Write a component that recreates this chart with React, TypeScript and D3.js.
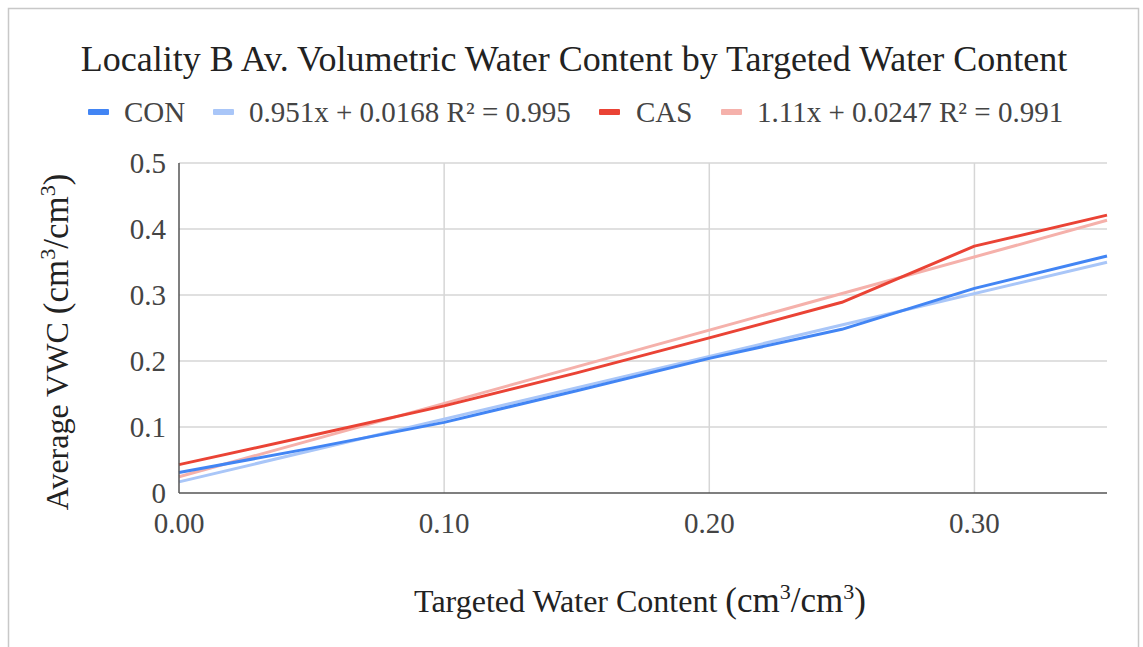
import React from "react";
import * as d3 from "d3";

const xValues = [0, 0.05, 0.1, 0.15, 0.2, 0.25, 0.3, 0.35];
const conValues = [0.031, 0.068, 0.107, 0.155, 0.204, 0.248, 0.31, 0.359];
const casValues = [0.043, 0.087, 0.132, 0.182, 0.235, 0.289, 0.374, 0.421];
const conTrend = [0.951, 0.0168];
const casTrend = [1.11, 0.0247];
const yTicks = [0, 0.1, 0.2, 0.3, 0.4, 0.5];
const xTicks = [0, 0.1, 0.2, 0.3];
const legendLabels = ["CON", "0.951x + 0.0168 R² = 0.995", "CAS", "1.11x + 0.0247 R² = 0.991"];

const W = 1143;
const H = 647;
const serif = "'Liberation Serif', 'DejaVu Serif', serif";

export default function App() {
  const x = d3.scaleLinear().domain([0, 0.35]).range([179, 1107]);
  const y = d3.scaleLinear().domain([0, 0.5]).range([493, 163]);
  const line = d3
    .line<[number, number]>()
    .x((d) => x(d[0]))
    .y((d) => y(d[1]));
  const conPts = xValues.map((v, i) => [v, conValues[i]] as [number, number]);
  const casPts = xValues.map((v, i) => [v, casValues[i]] as [number, number]);
  const trendPts = (c: number[]) =>
    [0, 0.35].map((v) => [v, c[0] * v + c[1]] as [number, number]);

  const legendItems = [
    { label: legendLabels[0], color: "#4285f4", sx: 88, tx: 124 },
    { label: legendLabels[1], color: "#a9c6f8", sx: 213, tx: 249 },
    { label: legendLabels[2], color: "#ea4335", sx: 599, tx: 636 },
    { label: legendLabels[3], color: "#f5b1ab", sx: 721, tx: 757 },
  ];

  return (
    <svg
      width={W}
      height={H}
      style={{ position: "absolute", left: 0, top: 0, background: "#fff" }}
    >
      <rect x={0} y={0} width={W} height={H} fill="#fff" />
      <rect x={8.5} y={8.5} width={1130} height={H + 20} fill="none" stroke="#c8c8c8" strokeWidth={1.5} />
      <text
        x={574}
        y={71}
        textAnchor="middle"
        fontFamily={serif}
        fontSize={36}
        fill="#222"
      >
        Locality B Av. Volumetric Water Content by Targeted Water Content
      </text>
      {legendItems.map((it, i) => (
        <g key={i}>
          <rect x={it.sx} y={109} width={21} height={6} rx={1} fill={it.color} />
          <text x={it.tx} y={122} fontFamily={serif} fontSize={29} fill="#444">
            {it.label}
          </text>
        </g>
      ))}
      {/* gridlines */}
      {yTicks.slice(1).map((t) => (
        <line key={"gy" + t} x1={179} x2={1107} y1={y(t)} y2={y(t)} stroke="#d6d6d6" strokeWidth={1.5} />
      ))}
      {xTicks.slice(1).map((t) => (
        <line key={"gx" + t} x1={x(t)} x2={x(t)} y1={163} y2={493} stroke="#d6d6d6" strokeWidth={1.5} />
      ))}
      {/* trend lines */}
      <path d={line(trendPts(conTrend)) || ""} fill="none" stroke="#a9c6f8" strokeWidth={3} />
      <path d={line(trendPts(casTrend)) || ""} fill="none" stroke="#f5b1ab" strokeWidth={3} />
      {/* data lines */}
      <path d={line(conPts) || ""} fill="none" stroke="#4285f4" strokeWidth={3} strokeLinejoin="round" />
      <path d={line(casPts) || ""} fill="none" stroke="#ea4335" strokeWidth={3} strokeLinejoin="round" />
      {/* axes */}
      <line x1={179} x2={179} y1={163} y2={493} stroke="#555" strokeWidth={1.5} />
      <line x1={179} x2={1107} y1={493} y2={493} stroke="#555" strokeWidth={1.5} />
      {yTicks.map((t) => (
        <text key={"ty" + t} x={166} y={y(t) + 10} textAnchor="end" fontFamily={serif} fontSize={29} fill="#444">
          {t === 0 ? "0" : d3.format(".1f")(t)}
        </text>
      ))}
      {xTicks.map((t) => (
        <text key={"tx" + t} x={x(t)} y={533} textAnchor="middle" fontFamily={serif} fontSize={29} fill="#444">
          {d3.format(".2f")(t)}
        </text>
      ))}
      {/* axis titles */}
      <text
        transform="translate(68,342) rotate(-90)"
        textAnchor="middle"
        fontFamily={serif}
        fontSize={32}
        fill="#222"
      >
        Average VWC{" "}
        <tspan fontSize={35}>(cm</tspan>
        <tspan fontSize={22} dy={-13}>3</tspan>
        <tspan fontSize={35} dy={13}>/cm</tspan>
        <tspan fontSize={22} dy={-13}>3</tspan>
        <tspan fontSize={35} dy={13}>)</tspan>
      </text>
      <text x={640} y={612} textAnchor="middle" fontFamily={serif} fontSize={32} fill="#222">
        Targeted Water Content{" "}
        <tspan fontSize={35}>(cm</tspan>
        <tspan fontSize={22} dy={-13}>3</tspan>
        <tspan fontSize={35} dy={13}>/cm</tspan>
        <tspan fontSize={22} dy={-13}>3</tspan>
        <tspan fontSize={35} dy={13}>)</tspan>
      </text>
    </svg>
  );
}
